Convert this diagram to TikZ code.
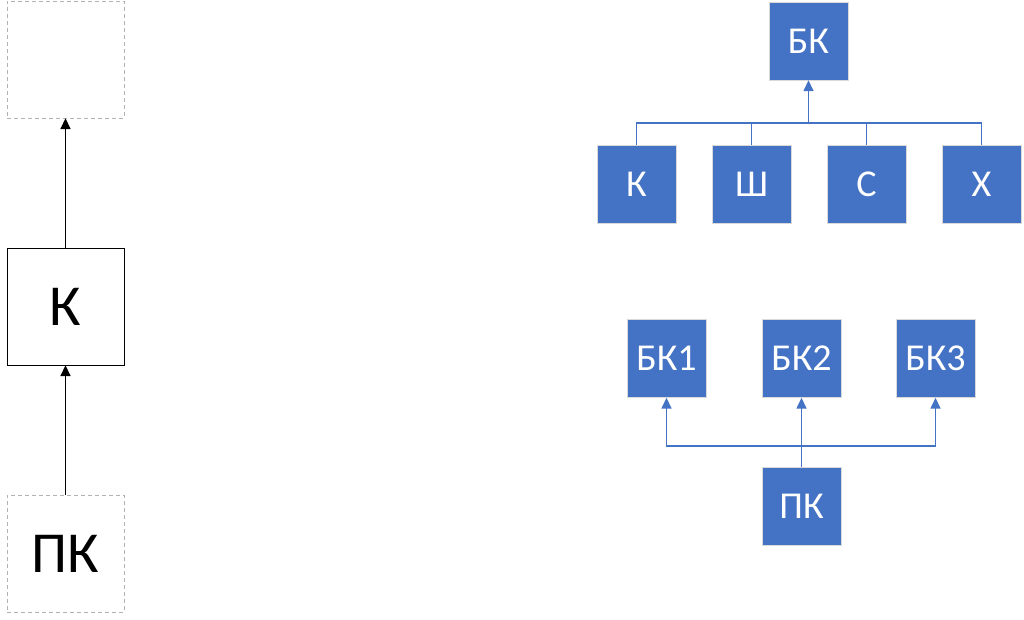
\documentclass[tikz,border=0pt]{standalone}
\usepackage{fontspec}
\setmainfont{Carlito}
\usetikzlibrary{arrows.meta}
\definecolor{officeblue}{HTML}{4472C4}

\begin{document}
\begin{tikzpicture}[x=1pt,y=-1pt,
    plainbox/.style={draw, minimum width=117pt, minimum height=117pt, inner sep=0pt, font=\fontsize{58}{62}\selectfont},
    ghostbox/.style={plainbox, draw=black!30, dash pattern=on 4pt off 3pt},
    bluebox/.style={draw=black!15, fill=officeblue, text=white, minimum width=79pt, minimum height=78pt, inner sep=0pt, font=\fontsize{38}{42}\selectfont},
    bluelink/.style={draw=officeblue, line width=1.5pt},
    tip/.style={-{Triangle[width=10pt,length=11pt]}}]
  \useasboundingbox (0,0) rectangle (1024,619);

  % left column
  \node[ghostbox] (top) at (65.5,59.5) {};
  \node[plainbox] (k) at (65.5,306.5) {К};
  \node[ghostbox] (pk) at (65.5,553.5) {ПК};
  \draw[tip, line width=1.6pt] (pk.north) -- (k.south);
  \draw[tip, line width=1.6pt] (k.north) -- (top.south);

  % upper tree
  \node[bluebox] (bk) at (808.5,41) {БК};
  \coordinate (busa) at (808.5,123);
  \foreach \name/\x/\txt in {ka/636.5/К, sha/751.5/Ш, sa/866.5/С, kha/981.5/Х}{
    \node[bluebox] (\name) at (\x,184) {\txt};
    \draw[bluelink] (\name.north) |- (busa);
  }
  \draw[bluelink, tip] (busa) -- (bk.south);

  % lower tree
  \node[bluebox] (pkb) at (801.5,506.5) {ПК};
  \coordinate (busb) at (801.5,446);
  \foreach \name/\x/\txt in {bka/666.5/БК1, bkb/801.5/БК2, bkc/935.5/БК3}{
    \node[bluebox] (\name) at (\x,358.5) {\txt};
    \draw[bluelink, tip] (busb) -| (\name.south);
  }
  \draw[bluelink] (pkb.north) -- (busb);
\end{tikzpicture}
\end{document}
